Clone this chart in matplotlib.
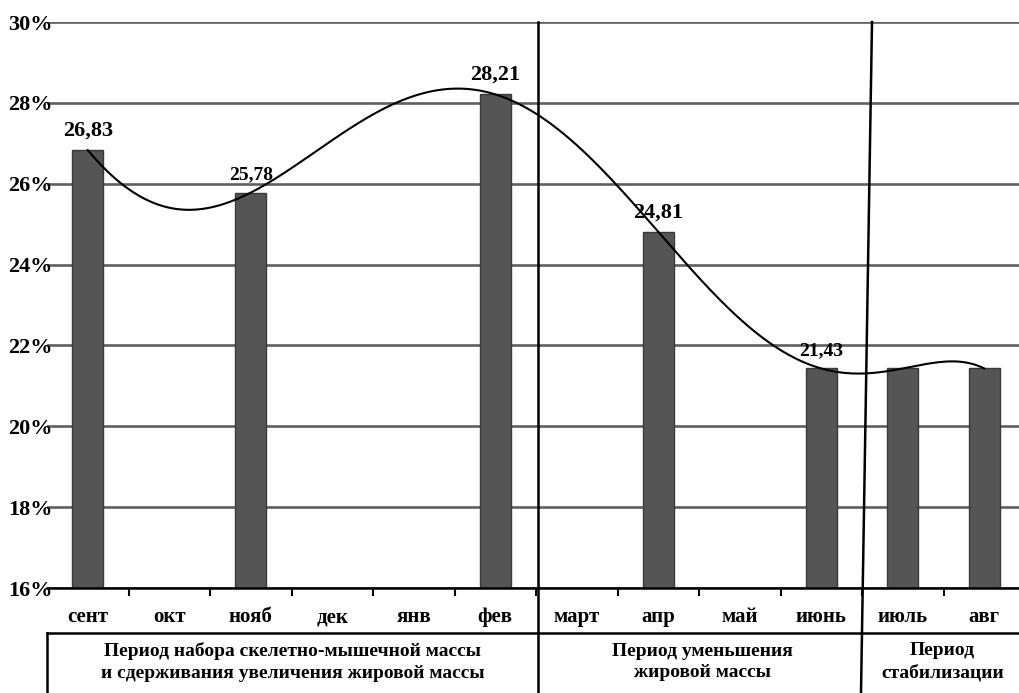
import matplotlib.pyplot as plt
from matplotlib.lines import Line2D
import numpy as np

plt.rcParams['font.family'] = ['Liberation Serif', 'DejaVu Serif']
plt.rcParams['font.weight'] = 'bold'

months = ['сент', 'окт', 'нояб', 'дек', 'янв', 'фев',
          'март', 'апр', 'май', 'июнь', 'июль', 'авг']
# months with a measurement and the measured value, %
bar_months = ['сент', 'нояб', 'фев', 'апр', 'июнь', 'июль', 'авг']
bar_values = [26.83, 25.78, 28.21, 24.81, 21.43, 21.43, 21.43]
labelled = ['сент', 'нояб', 'фев', 'апр', 'июнь']
yticks = [16, 18, 20, 22, 24, 26, 28, 30]
periods = ['Период набора скелетно-мышечной массы\nи сдерживания увеличения жировой массы',
           'Период уменьшения\nжировой массы',
           'Период\nстабилизации']

W, H = 1019, 693
fig = plt.figure(figsize=(W / 100, H / 100), dpi=100)
ax = fig.add_axes([47 / W, 1 - 588 / H, 1 - 47 / W, (588 - 22) / H])

xpos = [months.index(m) for m in bar_months]
ax.bar(xpos, bar_values, width=0.38, bottom=0, color='#555555',
       edgecolor='#3a3a3a', linewidth=1, zorder=3)

# polynomial trend line (6th degree)
coef = np.polyfit(xpos, bar_values, 6)
xs = np.linspace(xpos[0], xpos[-1], 400)
ax.plot(xs, np.polyval(coef, xs), color='black', lw=1.5, zorder=4)

for m, v in zip(bar_months, bar_values):
    if m in labelled:
        size = 14 if m in ('нояб', 'июнь') else 16
        ax.annotate(f'{v:.2f}'.replace('.', ','), (months.index(m), v),
                    xytext=(0, 7), textcoords='offset points',
                    ha='center', va='bottom', fontsize=size, fontweight='bold', zorder=5)

ax.set_ylim(16, 30)
ax.set_xlim(-0.5, -0.5 + (W - 47) / 81.5)
ax.set_yticks(yticks)
ax.set_yticklabels([f'{t}%' for t in yticks], fontsize=16, fontweight='bold')
ax.tick_params(axis='y', length=0, pad=-4)
ax.set_xticks(range(len(months)))
ax.set_xticklabels(months, fontsize=15, fontweight='bold')
ax.set_xticks(np.arange(0.5, len(months) - 1, 1), minor=True)
ax.tick_params(axis='x', which='major', length=0, pad=14)
ax.tick_params(axis='x', which='minor', length=6, width=1.5, direction='out')
ax.grid(axis='y', color='#5f5f5f', lw=1.9, zorder=0)
for s in ['top', 'right', 'left']:
    ax.spines[s].set_visible(False)
ax.spines['bottom'].set_linewidth(1.8)
ax.spines['bottom'].set_zorder(6)

# period separators and the table underneath
def fig_line(x0, y0, x1, y1, lw=1.8):
    fig.add_artist(Line2D([x0 / W, x1 / W], [1 - y0 / H, 1 - y1 / H],
                          color='black', lw=lw, transform=fig.transFigure))

fig_line(538, 22, 538, H)
fig_line(872, 22, 861, H)
fig_line(47, 633, W, 633)
fig_line(47, 633, 47, H)

bounds = [47, 538, 866, W]
for i, txt in enumerate(periods):
    cx = (bounds[i] + bounds[i + 1]) / 2
    fig.text(cx / W, 1 - 662 / H, txt, ha='center', va='center',
             fontsize=14, fontweight='bold', linespacing=1.35)

fig.savefig('out.png', dpi=100)
